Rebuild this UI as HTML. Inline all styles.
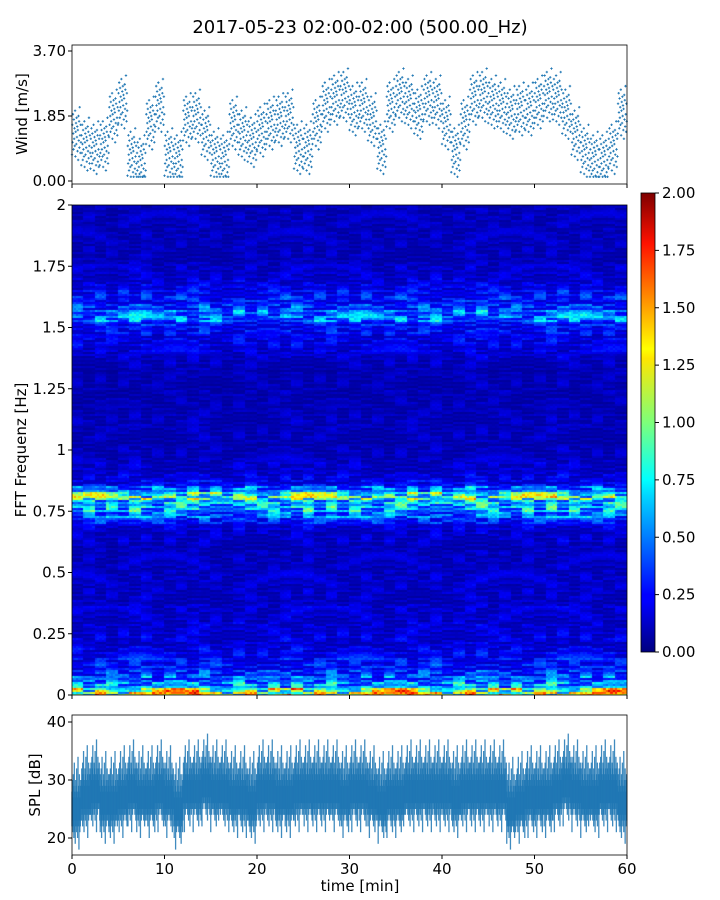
<!DOCTYPE html>
<html><head><meta charset="utf-8"><style>
body{margin:0;background:#fff;width:720px;height:900px;overflow:hidden;position:relative;font-family:"Liberation Sans","DejaVu Sans",sans-serif}
#spec{position:absolute;left:72px;top:205px}
svg{position:absolute;left:0;top:0}
text{font-family:"DejaVu Sans","Liberation Sans",sans-serif;fill:#000}
</style></head><body>
<canvas id="spec" width="555" height="490"></canvas>
<svg id="chart" width="720" height="900">
<defs><linearGradient id="jet" x1="0" y1="1" x2="0" y2="0">
<stop offset="0" stop-color="#00007f"/><stop offset="0.11" stop-color="#0000ff"/><stop offset="0.125" stop-color="#0000ff"/><stop offset="0.34" stop-color="#00d5ff"/><stop offset="0.375" stop-color="#00ffff"/><stop offset="0.5" stop-color="#7dff7a"/><stop offset="0.64" stop-color="#ffe600"/><stop offset="0.66" stop-color="#ffff00"/><stop offset="0.89" stop-color="#ff1200"/><stop offset="1" stop-color="#7f0000"/></linearGradient></defs>
<text x="360" y="33" font-size="18" text-anchor="middle">2017-05-23 02:00-02:00 (500.00_Hz)</text>
<g id="wind"></g>
<g id="spl"></g>
<g id="axes"></g>
<rect x="641" y="193" width="14" height="459" fill="url(#jet)" stroke="#000" stroke-width="0.8"/>
</svg>
<script>
const windMinutes=[0,1,2,3,4,5,6,7,8,9,10,11,12,13,14,15,16,17,18,19,20,21,22,23,24,25,26,27,28,29,30,31,32,33,34,35,36,37,38,39,40,41,42,43,44,45,46,47,48,49,50,51,52,53,54,55,56,57,58,59];
const windMean=[1.3,1.0,0.9,1.0,1.8,2.2,0.7,0.5,1.6,2.1,0.7,0.6,1.7,1.8,1.3,0.7,0.6,1.6,1.3,1.1,1.4,1.6,1.7,1.8,0.9,0.9,1.6,2.1,2.3,2.4,2.0,2.1,1.7,0.9,2.1,2.4,2.2,1.9,2.3,2.2,1.6,0.8,1.6,2.3,2.4,2.2,2.1,1.9,2.0,2.0,2.2,2.4,2.3,1.9,1.3,0.8,0.6,0.6,0.9,1.9];
const windSpread=[-0.55,0.3,-0.2,0.6,0.05,-0.4,0.45,-0.1,0.2,-0.3,0.7,-0.6,0.1,0.35,-0.25,0.5,-0.05,0.25,-0.45,0.15,-0.7,0.55,-0.15,0.4,-0.35,0.8,0.0,-0.5,0.3,-0.2];
const windTicks=[0,1.85,3.7];
const splMinutes=windMinutes;
const splMean=[25,27,28,26,26,27,28,27,27,28,27,25,28,28,29,28,28,27,27,26,28,28,27,27,28,28,28,28,28,27,28,28,27,26,27,27,28,28,28,28,28,27,28,28,28,28,28,25,26,27,27,27,28,29,28,27,27,28,28,26];
const splJitterHi=[3,5,2,6,4,8,3,2,5,4,7,3,2,9,4,3,6,2,4,5];
const splJitterLo=[3,2,4,3,5,2,4,6,3,2,4,3,5,2,3,7,2,4,3,2];
const splTicks=[20,30,40];
const specProfile=[1.0,0.55,0.45,0.35,0.3,0.25,0.22,0.2,0.18,0.18,0.16,0.16,0.15,0.15,0.15,0.14,0.14,0.14,0.14,0.14,0.13,0.13,0.13,0.13,0.13,0.15,0.15,0.17,0.3,0.45,0.6,0.6,0.8,0.45,0.25,0.18,0.16,0.15,0.13,0.12,0.12,0.12,0.12,0.12,0.12,0.12,0.11,0.11,0.11,0.11,0.11,0.11,0.11,0.12,0.13,0.15,0.18,0.2,0.22,0.25,0.3,0.45,0.45,0.35,0.3,0.25,0.2,0.17,0.15,0.14,0.13,0.12,0.12,0.12,0.12,0.12,0.12,0.12,0.12,0.12];
const specTime=[1.0,0.95,1.05,1.0,0.9,1.0,1.05,1.1,1.0,0.95,1.0,1.05,1.0,1.1,1.05,1.0,0.95,1.0,1.05,1.0,0.95,1.0,1.0,1.1,1.05,1.1,1.0,1.0,1.05,1.0,1.0,1.05,1.0,0.95,1.0,1.05,1.05,1.0,1.0,1.1,1.05,1.0,1.05,1.1,1.1,1.0,1.05,1.0,1.0,1.05,1.0,1.05,1.1,1.1,1.0,1.05,1.0,1.0,1.05,1.0];
const rowTexture=[1.0,0.55,1.5,0.8,1.25,0.5,1.4,0.7,1.1,1.6,0.65,0.9,1.3,0.6,1.2,0.45,1.45,0.85,1.05];
const colTexture=[1.0,0.92,1.08,0.96,1.05,0.9,1.1,0.95,1.02,1.12,0.94,1.0,0.88];
const specTicks=[0,0.25,0.5,0.75,1,1.25,1.5,1.75,2];
const specTickLabels=["0","0.25","0.5","0.75","1","1.25","1.5","1.75","2"];
const cbTicks=["0.00","0.25","0.50","0.75","1.00","1.25","1.50","1.75","2.00"];
const timeTicks=[0,10,20,30,40,50,60];

const NS="http://www.w3.org/2000/svg";
const X0=72,X1=627;
const xs=m=>X0+(X1-X0)*m/60;
const yWind=v=>181-(181-51)*v/3.7;
const ySpl=v=>838-(838-722)*(v-20)/20;
const yFreq=f=>695-490*f/2;
function el(tag,attrs,parent){const e=document.createElementNS(NS,tag);for(const k in attrs)e.setAttribute(k,attrs[k]);parent.appendChild(e);return e;}
function jet(v){v=Math.max(0,Math.min(1,v));const r=Math.min(4*v-1.5,-4*v+4.5),g=Math.min(4*v-0.5,-4*v+3.5),b=Math.min(4*v+0.5,-4*v+2.5);const c=x=>Math.round(255*Math.max(0,Math.min(1,x)));return [c(r),c(g),c(b)];}

// spectrogram
const ctx=document.getElementById('spec').getContext('2d');
const nCols=240,nRows=245,cw=555/nCols,rh=490/nRows;
const RL=rowTexture.length,CL=colTexture.length;
for(let c=0;c<nCols;c++)for(let r=0;r<nRows;r++){
  const pi=Math.min(specProfile.length-1,Math.floor(r*specProfile.length/nRows));
  const seg=Math.floor(c/5);
  const off=(seg*seg*13+seg*7+Math.floor(r/9)*seg)%RL;
  const v=specProfile[pi]*specTime[Math.floor(c/4)]*rowTexture[(r*7+off)%RL]*colTexture[(c*c+r)%CL];
  const [R,G,B]=jet(v/2);ctx.fillStyle=`rgb(${R},${G},${B})`;
  ctx.fillRect(Math.floor(c*cw),Math.floor(490-(r+1)*rh),Math.ceil(cw)+1,Math.ceil(rh)+1);
}

// wind
const wg=document.getElementById('wind');
windMinutes.forEach((m,i)=>{windSpread.forEach((s,j)=>{
  const x=xs(m+j/windSpread.length),y=yWind(Math.max(0.12,windMean[i]+s));
  const p=el('path',{d:`M${x-1.2},${y}h2.4M${x},${y-1.2}v2.4`,stroke:'#1f77b4','stroke-width':0.9},wg);
  
  
});});

// spl
const sg=document.getElementById('spl');
splMinutes.forEach((m,i)=>{splJitterHi.forEach((h,j)=>{
  const x=xs(m+j/splJitterHi.length);
  const l=splJitterLo[(j+i)%splJitterLo.length];
  const ln=el('line',{x1:x,x2:x,y1:ySpl(splMean[i]+h),y2:ySpl(splMean[i]-l),stroke:'#1f77b4','stroke-width':1.3,'stroke-opacity':0.85},sg);
  
  
});});

// axes
const ag=document.getElementById('axes');
[[45,184],[205,695],[715,855]].forEach(([t,b])=>el('rect',{x:X0,y:t,width:X1-X0,height:b-t,fill:'none',stroke:'#000','stroke-width':0.8},ag));
timeTicks.forEach(t=>{
  [184,695,855].forEach(b=>el('line',{x1:xs(t),x2:xs(t),y1:b,y2:b+4,stroke:'#000'},ag));
  el('text',{x:xs(t),y:874,'font-size':15,'text-anchor':'middle'},ag).textContent=t;
});
windTicks.forEach(v=>{el('line',{x1:X0-4,x2:X0,y1:yWind(v),y2:yWind(v),stroke:'#000'},ag);
  el('text',{x:X0-6,y:yWind(v)+5,'font-size':15,'text-anchor':'end'},ag).textContent=v.toFixed(2);});
specTicks.forEach((f,i)=>{el('line',{x1:X0-4,x2:X0,y1:yFreq(f),y2:yFreq(f),stroke:'#000'},ag);
  el('text',{x:X0-6,y:yFreq(f)+5,'font-size':15,'text-anchor':'end'},ag).textContent=specTickLabels[i];});
splTicks.forEach(v=>{el('line',{x1:X0-4,x2:X0,y1:ySpl(v),y2:ySpl(v),stroke:'#000'},ag);
  el('text',{x:X0-6,y:ySpl(v)+5,'font-size':15,'text-anchor':'end'},ag).textContent=v;});
cbTicks.forEach((l,i)=>{const y=652-459*i/8;el('line',{x1:655,x2:659,y1:y,y2:y,stroke:'#000'},ag);
  el('text',{x:662,y:y+5,'font-size':15},ag).textContent=l;});
el('text',{x:360,y:891,'font-size':15,'text-anchor':'middle'},ag).textContent='time [min]';
el('text',{x:27,y:114,'font-size':15,'text-anchor':'middle',transform:'rotate(-90 27 114)'},ag).textContent='Wind [m/s]';
el('text',{x:26,y:450,'font-size':15,'text-anchor':'middle',transform:'rotate(-90 26 450)'},ag).textContent='FFT Frequenz [Hz]';
el('text',{x:40,y:785,'font-size':15,'text-anchor':'middle',transform:'rotate(-90 40 785)'},ag).textContent='SPL [dB]';
</script>
</body></html>
